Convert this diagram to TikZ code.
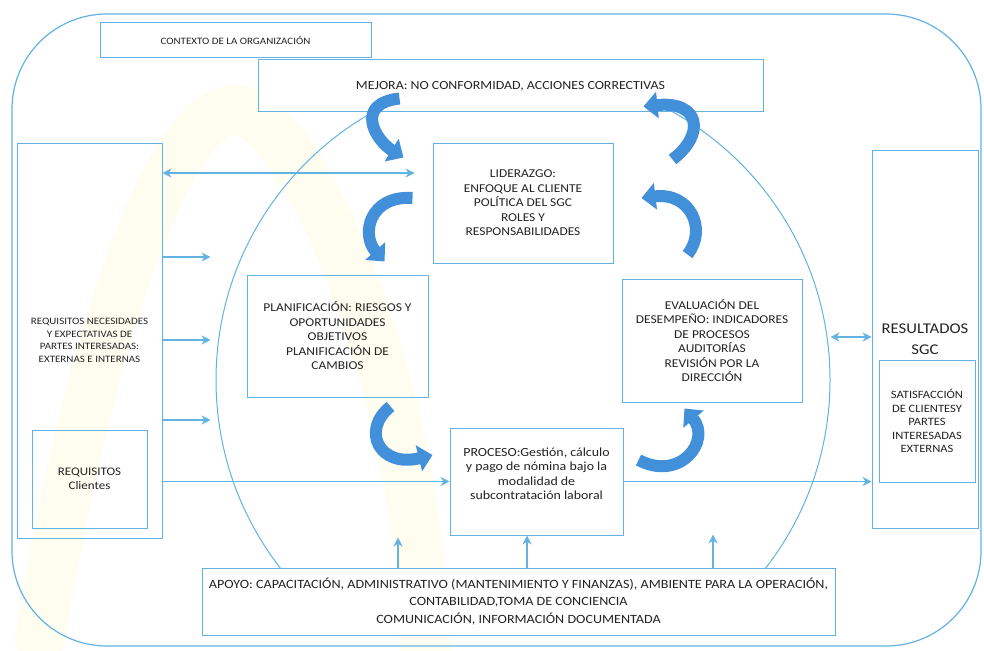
\documentclass[tikz,border=0pt]{standalone}
\usepackage{fontspec}
\setmainfont{Carlito}[FakeStretch=1.12]
\usetikzlibrary{arrows.meta,calc}
\definecolor{sgcblue}{RGB}{98,178,228}
\definecolor{flowblue}{RGB}{66,144,218}
\definecolor{wmyellow}{RGB}{254,253,240}
\definecolor{txtgray}{RGB}{35,35,35}
\tikzset{
  box/.style={draw=sgcblue, line width=1pt, align=center, inner sep=2pt, text=txtgray},
  thin arrow/.style={draw=sgcblue, line width=1.1pt, -{Stealth[length=9pt,width=9pt,inset=3pt]}},
  both arrow/.style={thin arrow, {Stealth[length=9pt,width=9pt,inset=3pt]}-{Stealth[length=9pt,width=9pt,inset=3pt]}},
  cycle arrow/.style={draw=flowblue, line width=12pt, -{Triangle[length=14pt,width=26pt]}},
}
\newcommand{\midfont}{\fontsize{12}{14.5}\selectfont}
\newcommand{\smallfont}{\fontsize{9.8}{12.5}\selectfont}

\begin{document}
\begin{tikzpicture}[x=1pt, y=-1pt]
			%%%%% START %%%%%
			\useasboundingbox (0,0) rectangle (984,650);
			
			% background watermark and outer frame
			\draw[line width=50pt, color=wmyellow, line cap=round] (40,640) .. controls (90,330) and (170,110) .. (235,110) .. controls (300,110) and (420,380) .. (425,650);
			\draw[line width=1.2pt, color=sgcblue, rounded corners=95pt] (12,14) rectangle (981,646);
			
			\begin{scope}
				\clip (0,0) rectangle (984,568);
				\node[circle, draw=sgcblue, line width=1pt, minimum size=614pt, inner sep=0pt] (ciclo) at (523,380) {};
			\end{scope}
			
			% boxes
			\node[box, minimum width=271pt, minimum height=35pt, font=\fontsize{9.8}{12}\selectfont] (contexto) at (235.5,40.5) {CONTEXTO DE LA ORGANIZACIÓN};
			\node[box, fill=white, minimum width=505pt, minimum height=52pt, font=\fontsize{12.4}{14.5}\selectfont] (mejora) at (510.5,86) {MEJORA: NO CONFORMIDAD, ACCIONES CORRECTIVAS};
			
			\node[box, minimum width=180pt, minimum height=120pt, font=\midfont] (liderazgo) at (523,203) {LIDERAZGO:\\ENFOQUE AL CLIENTE\\POLÍTICA DEL SGC\\ROLES Y\\RESPONSABILIDADES};
			\node[box, minimum width=181pt, minimum height=122pt, font=\midfont] (planificacion) at (337.5,336) {PLANIFICACIÓN: RIESGOS Y\\OPORTUNIDADES\\OBJETIVOS\\PLANIFICACIÓN DE\\CAMBIOS};
			\node[box, minimum width=180pt, minimum height=123pt, font=\midfont] (evaluacion) at (712,340.5) {EVALUACIÓN DEL\\DESEMPEÑO: INDICADORES\\DE PROCESOS\\AUDITORÍAS\\REVISIÓN POR LA\\DIRECCIÓN};
			\node[box, minimum width=173pt, minimum height=107pt] (proceso) at (536.5,481.5) {};
			\node[align=center, text=txtgray, font=\fontsize{12.4}{14.5}\selectfont] (proceso-txt) at (536.5,473.5) {PROCESO:Gestión, cálculo\\y pago de nómina bajo la\\modalidad de\\subcontratación laboral};
			
			\node[box, minimum width=145pt, minimum height=395pt, font=\smallfont] (reqs) at (89.5,340.5) {REQUISITOS NECESIDADES\\Y EXPECTATIVAS DE\\PARTES INTERESADAS:\\EXTERNAS E INTERNAS};
			\node[box, minimum width=115pt, minimum height=98pt, font=\fontsize{11.6}{14}\selectfont] (clientes) at (89.5,479) {REQUISITOS\\Clientes};
			
			\node[box, minimum width=106pt, minimum height=378pt, font=\fontsize{14.9}{21}\selectfont] (resultados) at (925,339) {RESULTADOS\\SGC};
			\node[box, minimum width=96pt, minimum height=122pt, font=\fontsize{11.2}{13.5}\selectfont] (satisfaccion) at (927,421) {SATISFACCIÓN\\DE CLIENTESY\\PARTES\\INTERESADAS\\EXTERNAS};
			
			\node[box, fill=white, minimum width=633pt, minimum height=67pt, font=\fontsize{12.6}{17.5}\selectfont] (apoyo) at (518.5,601.5) {APOYO: CAPACITACIÓN, ADMINISTRATIVO (MANTENIMIENTO Y FINANZAS), AMBIENTE PARA LA OPERACIÓN,\\CONTABILIDAD,TOMA DE CONCIENCIA\\COMUNICACIÓN, INFORMACIÓN DOCUMENTADA};
			
			% thin connectors
			\draw[both arrow, shorten >=18pt] (reqs.east |- 0,173) -- (liderazgo.west |- 0,173);
			\draw[thin arrow] (reqs.east |- 0,257) -- ++(48,0);
			\draw[thin arrow] (reqs.east |- 0,340) -- ++(48,0);
			\draw[thin arrow] (reqs.east |- 0,420) -- ++(48,0);
			\draw[thin arrow] (reqs.east |- proceso.west) -- (proceso.west);
			\draw[thin arrow] (proceso.east) -- (resultados.west |- proceso.east);
			\draw[both arrow] (ciclo.east |- 0,337) -- (resultados.west |- 0,337);
			
			\draw[thin arrow] (apoyo.north -| 398,0) -- ++(0,-30);
			\draw[thin arrow] (apoyo.north -| 527,0) -- (proceso.south -| 527,0);
			\draw[thin arrow] (apoyo.north -| 713,0) -- ++(0,-33);
			
			% cycle arrows
			\draw[cycle arrow] ($(mejora.south west)+(142,-14)$) .. controls +(-45,5) and +(-29,-18) .. ($(liderazgo.north west)+(-29,15)$);
			\draw[cycle arrow] ($(liderazgo.west)+(-20,-5)$) .. controls +(-43,-3) and +(-24,-27) .. ($(planificacion.north east)+(-44,-13)$);
			\draw[cycle arrow] ($(planificacion.south east)+(-38,9)$) .. controls +(-30,24) and +(-53,13) .. ($(proceso.west)+(-17,-26.5)$);
			\draw[cycle arrow] ($(proceso.east)+(15,-21.5)$) .. controls +(42,22) and +(27,32) .. ($(evaluacion.south west)+(63,6)$);
			\draw[cycle arrow] ($(evaluacion.north west)+(66,-24)$) .. controls +(20,-25) and +(49,-6) .. ($(liderazgo.east)+(28,-5)$);
			\draw[cycle arrow] ($(liderazgo.north east)+(59,17)$) .. controls +(33,-25) and +(57,-6) .. ($(mejora.south east)+(-120,-6)$);
			
			%%%%% END %%%%%
\end{tikzpicture}
\end{document}
